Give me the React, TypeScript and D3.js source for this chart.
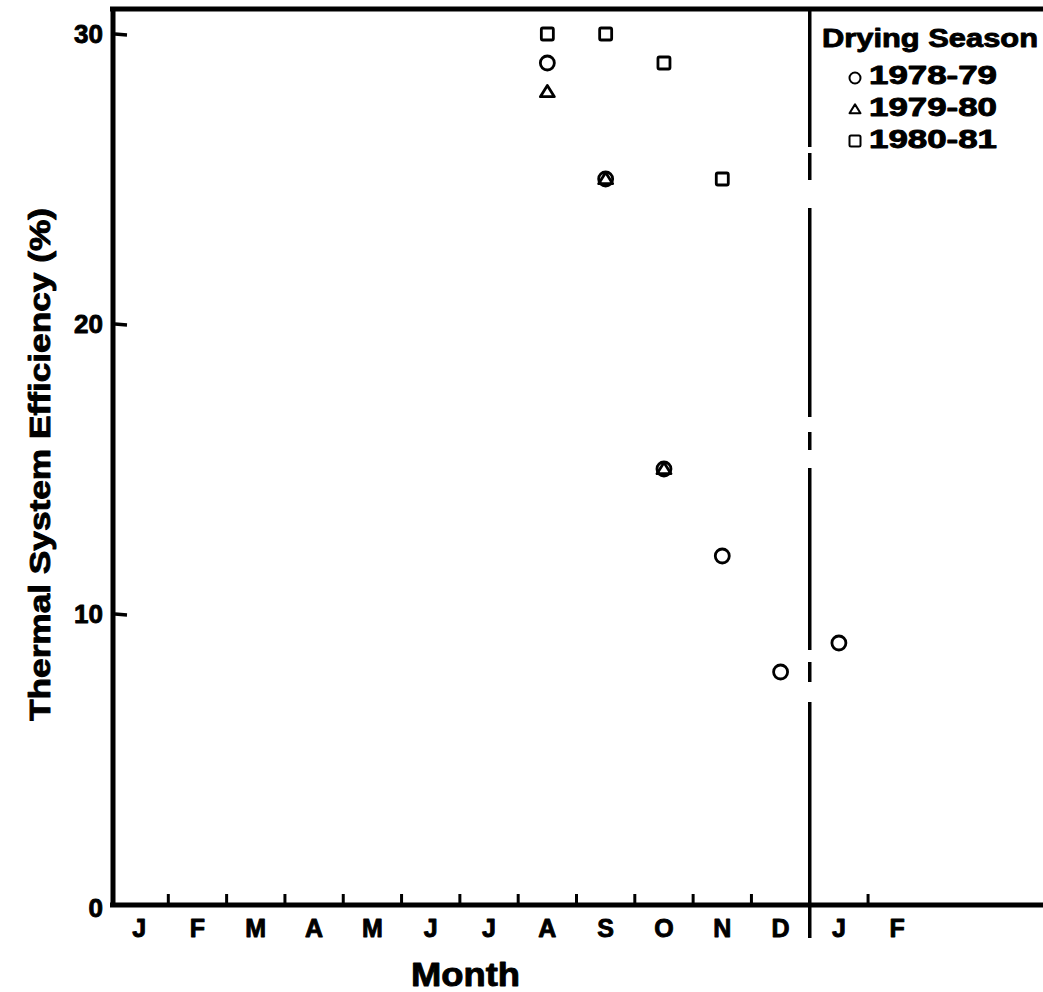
import * as d3 from "d3"

// month labels along the bottom (two drying seasons share Jan/Feb)
const monthLabels = ["J", "F", "M", "A", "M", "J", "J", "A", "S", "O", "N", "D", "J", "F"]
const monthTicks = [1, 2, 3, 4, 5, 6, 7, 8, 9, 10, 11, 13]
const yTicks = [0, 10, 20, 30]

const seasons = ["1978-79", "1979-80", "1980-81"]
const shapes = ["circle", "triangle", "square"]

// month index (0 = Jan) and thermal efficiency (%)
const months7879 = [7, 8, 9, 10, 11, 12]
const values7879 = [29, 25, 15, 12, 8, 9]
const months7980 = [7, 8, 9]
const values7980 = [28, 25, 15]
const months8081 = [7, 8, 9, 10]
const values8081 = [30, 30, 29, 25]

const W = 1043
const H = 992
const font = "'Liberation Sans', Arial, Helvetica, sans-serif"

const x = d3.scaleLinear().domain([0, 16]).range([110, 1043])
const y = d3.scaleLinear().domain([0, 30]).range([904, 34])

const seriesData = [
  { season: seasons[0], shape: shapes[0], months: months7879, values: values7879 },
  { season: seasons[1], shape: shapes[1], months: months7980, values: values7980 },
  { season: seasons[2], shape: shapes[2], months: months8081, values: values8081 },
]

function Marker({ shape, cx, cy, s, sw }: { shape: string; cx: number; cy: number; s: number; sw: number }) {
  if (shape === "circle") {
    return <circle cx={cx} cy={cy} r={s * 0.5} fill="none" stroke="#000" strokeWidth={sw} />
  }
  if (shape === "triangle") {
    const h = s * 0.8
    const pts = [
      [cx, cy - h * 0.58],
      [cx - s * 0.5, cy + h * 0.42],
      [cx + s * 0.5, cy + h * 0.42],
    ]
    return <polygon points={pts.map((p) => p.join(",")).join(" ")} fill="none" stroke="#000" strokeWidth={sw} strokeLinejoin="round" />
  }
  return <rect x={cx - s / 2} y={cy - s / 2} width={s} height={s} rx={1.5} fill="none" stroke="#000" strokeWidth={sw} />
}

export default function App() {
  const xDiv = x(12)
  // heavier look of the old typeset lettering
  const heavy = { stroke: "#000", strokeWidth: 0.9, strokeLinejoin: "round" as const }
  return (
    <svg width={W} height={H} style={{ position: "absolute", left: 0, top: 0, background: "#fff" }} fontFamily={font} fontWeight="bold">
      <rect width={W} height={H} fill="#fff" />

      {/* frame */}
      <line x1={x(0)} x2={W} y1={9} y2={9} stroke="#000" strokeWidth={5} />
      <line x1={x(0) + 3} x2={x(0) + 3} y1={7} y2={907} stroke="#000" strokeWidth={5} />
      <line x1={x(0)} x2={W} y1={y(0) + 1} y2={y(0) + 1} stroke="#000" strokeWidth={5} />

      {/* season divider */}
      <line
        x1={xDiv}
        x2={xDiv}
        y1={9}
        y2={938}
        stroke="#000"
        strokeWidth={3.5}
        strokeDasharray="138,6,27,28,209,15,18,18,182,12,20,20,300"
      />

      {/* y ticks */}
      {yTicks.map((t) => (
        <g key={t}>
          {t > 0 && <line x1={x(0) + 5} x2={x(0) + 17} y1={y(t)} y2={y(t) + 1} stroke="#000" strokeWidth={3.5} />}
          <text x={103} y={y(t) + (t === 0 ? 13 : 9)} fontSize={26} textAnchor="end" {...heavy}>
            {t}
          </text>
        </g>
      ))}

      {/* month ticks */}
      {monthTicks.map((m) => (
        <line key={m} x1={x(m)} x2={x(m)} y1={y(0) - 10} y2={y(0)} stroke="#000" strokeWidth={3} />
      ))}
      {monthLabels.map((lab, i) => (
        <text key={i} x={x(i + 0.5)} y={937} fontSize={25} textAnchor="middle" {...heavy}>
          {lab}
        </text>
      ))}

      {/* axis titles */}
      <text x={411} y={986} fontSize={33} textLength={109} lengthAdjust="spacingAndGlyphs" {...heavy}>
        Month
      </text>
      <text
        transform={`translate(50,${721}) rotate(-90)`}
        fontSize={30}
        textLength={513}
        lengthAdjust="spacingAndGlyphs"
        {...heavy}
      >
        Thermal System Efficiency (%)
      </text>

      {/* data */}
      {seriesData.map((s) =>
        s.months.map((m, i) => (
          <Marker key={s.season + i} shape={s.shape} cx={x(m + 0.5)} cy={y(s.values[i])} s={s.shape === "square" ? 12 : 14} sw={2.8} />
        )),
      )}

      {/* legend */}
      <text x={822} y={47} fontSize={26} textLength={216} lengthAdjust="spacingAndGlyphs" {...heavy}>
        Drying Season
      </text>
      {seriesData.map((s, i) => (
        <g key={s.season}>
          <Marker shape={s.shape} cx={855} cy={78 + i * 31.5} s={11} sw={2} />
          <text x={869} y={84 + i * 32} fontSize={25} textLength={128} lengthAdjust="spacingAndGlyphs" {...heavy}>
            {s.season}
          </text>
        </g>
      ))}
    </svg>
  )
}
